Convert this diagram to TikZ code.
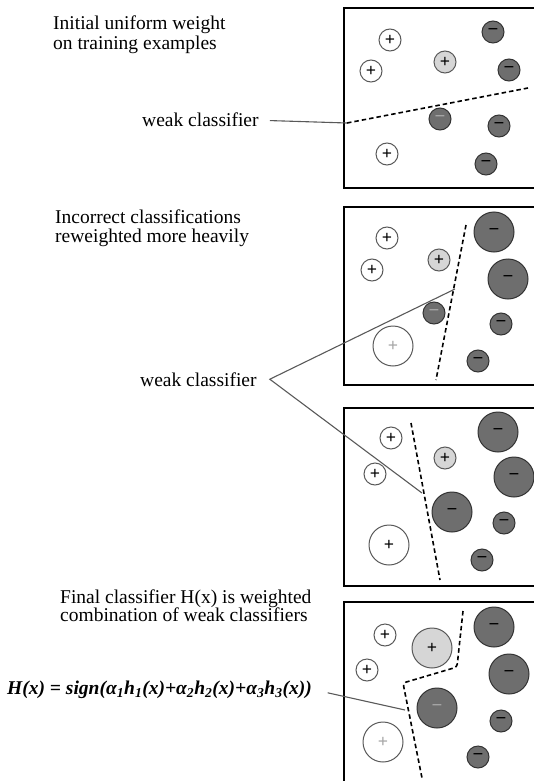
\documentclass[tikz,border=0pt]{standalone}
\usepackage{fontspec}
\setmainfont{Liberation Serif}
\begin{document}
\begin{tikzpicture}[x=1pt,y=-1pt,
  txt/.style={anchor=base west,inner sep=0pt,font=\fontsize{19.5}{20}\selectfont},
  panel/.style={draw=black,line width=2pt},
  plussmall/.style={circle,draw=black!65,line width=1pt,fill=white,inner sep=0pt,minimum size=22pt,font=\fontsize{18}{18}\selectfont\bfseries},
  plusbig/.style={plussmall,minimum size=40pt},
  lightplus/.style={plussmall,fill=black!16},
  lightbig/.style={lightplus,minimum size=40pt},
  minussmall/.style={circle,draw=black!80,line width=1pt,fill=black!57,inner sep=0pt,minimum size=22pt,font=\fontsize{19}{19}\selectfont\bfseries},
  minusbig/.style={minussmall,minimum size=40pt},
  faint/.style={text=black!35},
  boundary/.style={dash pattern=on 4.5pt off 3pt,line width=1.6pt,black},
  lbl/.style={draw=black!65,line width=1.1pt}
]
\useasboundingbox (0,0) rectangle (534,781);
\clip (0,0) rectangle (534,781);

% ---------- panel 1 ----------
\draw[panel] (344,8) rectangle (545,188);
\node[plussmall] (p1a) at (390,40) {+};
\node[plussmall] (p1b) at (371,71) {+};
\node[plussmall] (p1c) at (387,154) {+};
\node[lightplus] (p1d) at (445,62) {+};
\node[minussmall] (n1a) at (493,32) {−};
\node[minussmall] (n1b) at (509,70) {−};
\node[minussmall,faint] (n1c) at (440,119) {−};
\node[minussmall] (n1d) at (499,126) {−};
\node[minussmall] (n1e) at (486,164) {−};
\coordinate (d1a) at (347,123);
\coordinate (d1b) at (528,88);
\draw[boundary] (d1a) -- (d1b);

% ---------- panel 2 ----------
\draw[panel] (344,207) rectangle (545,385);
\node[plussmall] (p2a) at (387,238) {+};
\node[plussmall] (p2b) at (372,270) {+};
\node[lightplus] (p2c) at (439,260) {+};
\node[plusbig,faint] (p2d) at (393,346) {+};
\node[minusbig] (n2a) at (494,232) {−};
\node[minusbig] (n2b) at (508,279) {−};
\node[minussmall,faint] (n2c) at (434,313) {−};
\node[minussmall] (n2d) at (501,324) {−};
\node[minussmall] (n2e) at (478,361) {−};
\coordinate (d2a) at (466,225);
\coordinate (d2b) at (436,380);
\coordinate (j2) at (455,289);
\draw[boundary] (d2a) -- (d2b);

% ---------- panel 3 ----------
\draw[panel] (344,408) rectangle (545,586);
\node[plussmall] (p3a) at (391,438) {+};
\node[plussmall] (p3b) at (375,474) {+};
\node[lightplus] (p3c) at (445,458) {+};
\node[plusbig] (p3d) at (389,545) {+};
\node[minusbig] (n3a) at (498,432) {−};
\node[minusbig] (n3b) at (514,477) {−};
\node[minusbig] (n3c) at (452,512) {−};
\node[minussmall] (n3d) at (504,523) {−};
\node[minussmall] (n3e) at (482,560) {−};
\coordinate (d3a) at (411,423);
\coordinate (d3b) at (440,580);
\coordinate (j3) at (422,493);
\draw[boundary] (d3a) -- (d3b);

% ---------- panel 4 ----------
\draw[panel] (344,602) rectangle (545,800);
\node[plussmall] (p4a) at (385,635) {+};
\node[plussmall] (p4b) at (367,670) {+};
\node[lightbig] (p4c) at (432,648) {+};
\node[plusbig,faint] (p4d) at (383,742) {+};
\node[minusbig] (n4a) at (494,627) {−};
\node[minusbig] (n4b) at (509,674) {−};
\node[minusbig,faint] (n4c) at (437,708) {−};
\node[minussmall] (n4d) at (501,721) {−};
\node[minussmall] (n4e) at (478,757) {−};
\coordinate (d4a) at (463,611);
\coordinate (d4b) at (457,667);
\coordinate (d4c) at (403,683);
\coordinate (d4d) at (422,778);
\coordinate (j4) at (405,710);
\draw[boundary,rounded corners=3pt] (d4a) -- (d4b) -- (d4c) -- (d4d);

% ---------- texts ----------
\node[txt] (t1a) at (53,30) {Initial uniform weight};
\node[txt] (t1b) at (53,50) {on training examples};
\node[txt] (wc1) at (142,127) {weak classifier};
\node[txt] (t2a) at (55,223) {Incorrect classifications};
\node[txt] (t2b) at (55,242) {reweighted more heavily};
\node[txt] (wc2) at (140,386) {weak classifier};
\coordinate (v2) at ([xshift=13pt]wc2.east);
\node[txt] (t4a) at (60,603) {Final classifier H(x) is weighted};
\node[txt] (t4b) at (60,621) {combination of weak classifiers};
\node[txt,font=\fontsize{19.5}{20}\selectfont\bfseries\itshape] (fml) at (7,694)
  {H(x) = sign(α\textsubscript{1}h\textsubscript{1}(x)+α\textsubscript{2}h\textsubscript{2}(x)+α\textsubscript{3}h\textsubscript{3}(x))};

% ---------- label connectors ----------
\draw[lbl,shorten <=11pt] (wc1.east) -- (d1a);
\draw[lbl] (j2) -- (v2) -- (j3);
\draw[lbl,shorten <=16pt] (fml.east) -- (j4);
\end{tikzpicture}
\end{document}
